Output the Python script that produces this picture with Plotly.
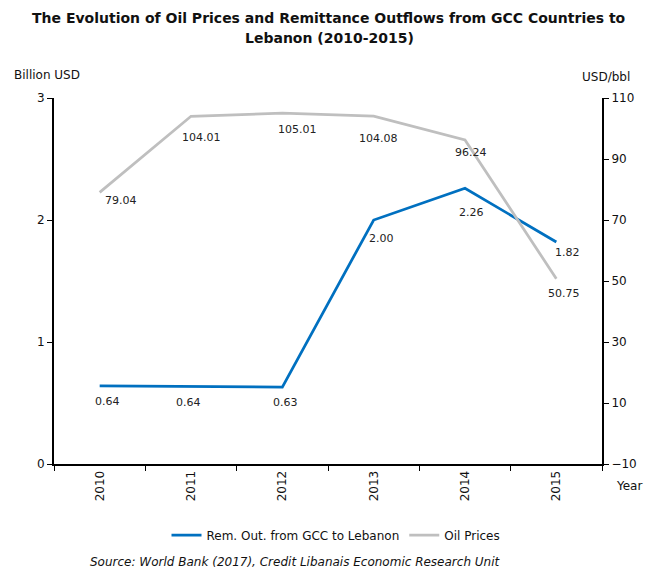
import plotly.graph_objects as go

years = ['2010', '2011', '2012', '2013', '2014', '2015']
remittances = [0.64, 0.635, 0.63, 2.00, 2.26, 1.82]
remit_labels = ['0.64', '0.64', '0.63', '2.00', '2.26', '1.82']
oil_prices = [79.04, 104.01, 105.01, 104.08, 96.24, 50.75]
oil_labels = ['79.04', '104.01', '105.01', '104.08', '96.24', '50.75']

# label offsets in px (dx, dy) from each point, as placed in the original
remit_shift = [(8, -16), (-3, -16), (3, -15), (8, -18), (6, -24), (11, -11)]
oil_shift = [(21, -8), (10, -21), (15, -16), (5, -22), (6, -13), (8, -15)]

BLUE = '#0070C0'
GREY = '#BFBFBF'
FONT = 'DejaVu Sans'

# the page body adds an 8px margin, so the figure is drawn 8px smaller and
# positions taken from the 657x569 reference are moved up/left by OFF
OFF = 8
W, H = 657 - OFF, 569 - OFF
L, R, T, B = 54 - OFF, 55, 98 - OFF, 105
pw, ph = W - L - R, H - T - B


def px(x, y):
    # reference pixel position -> paper coords
    return (x - OFF - L) / pw, (H - B - (y - OFF)) / ph


fig = go.Figure()
fig.add_trace(go.Scatter(x=years, y=remittances, mode='lines', name='Rem. Out. from GCC to Lebanon',
                         line=dict(color=BLUE, width=2.75), yaxis='y'))
fig.add_trace(go.Scatter(x=years, y=oil_prices, mode='lines', name='Oil Prices',
                         line=dict(color=GREY, width=2.75), yaxis='y2'))

annotations = []
for i, (y, t, (dx, dy)) in enumerate(zip(remittances, remit_labels, remit_shift)):
    annotations.append(dict(x=i, y=y, xref='x', yref='y', text=t, showarrow=False,
                            xshift=dx, yshift=dy, font=dict(size=11, color='#222', family=FONT)))
for i, (y, t, (dx, dy)) in enumerate(zip(oil_prices, oil_labels, oil_shift)):
    annotations.append(dict(x=i, y=y, xref='x', yref='y2', text=t, showarrow=False,
                            xshift=dx, yshift=dy, font=dict(size=11, color='#222', family=FONT)))

for text, x, y, size in [
    ('<b>The Evolution of Oil Prices and Remittance Outflows from GCC Countries to</b>', 329, 18, 14),
    ('<b>Lebanon (2010-2015)</b>', 329, 38, 14),
    ('Billion USD', 47, 75, 12),
    ('USD/bbl', 606, 77, 12),
    ('Year', 629, 486, 12),
    ('<i>Source: World Bank (2017), Credit Libanais Economic Research Unit</i>', 295, 562, 12),
]:
    ax, ay = px(x, y)
    annotations.append(dict(text=text, x=ax, y=ay, xref='paper', yref='paper', showarrow=False,
                            xanchor='center', yanchor='middle',
                            font=dict(size=size, family=FONT, color='#111')))

leg_x, leg_y = px(336, 535)

fig.update_layout(
    width=W, height=H,
    margin=dict(l=L, r=R, t=T, b=B, autoexpand=False),
    paper_bgcolor='white', plot_bgcolor='white',
    font=dict(family=FONT, size=12, color='#111'),
    xaxis=dict(type='category', range=[-0.5, 5.5], showline=True, linecolor='black', linewidth=2,
               ticks='outside', tickson='boundaries', ticklen=5, tickcolor='black',
               tickangle=-90, showgrid=False, automargin=False, tickfont=dict(size=12, family=FONT)),
    yaxis=dict(range=[0, 3], tickvals=[0, 1, 2, 3], showline=True, linecolor='black', linewidth=2,
               ticks='outside', ticklen=5, tickcolor='black', showgrid=False, zeroline=False,
               automargin=False, tickfont=dict(size=12, family=FONT)),
    yaxis2=dict(range=[-10, 110], tickvals=[-10, 10, 30, 50, 70, 90, 110], overlaying='y', side='right',
                showline=True, linecolor='black', linewidth=2, ticks='outside', ticklen=5,
                tickcolor='black', showgrid=False, zeroline=False, automargin=False,
                tickfont=dict(size=12, family=FONT)),
    legend=dict(orientation='h', x=leg_x, xanchor='center', y=leg_y, yanchor='middle',
                font=dict(size=12, family=FONT), bgcolor='rgba(0,0,0,0)'),
    annotations=annotations,
)

fig.write_html('out.html')
